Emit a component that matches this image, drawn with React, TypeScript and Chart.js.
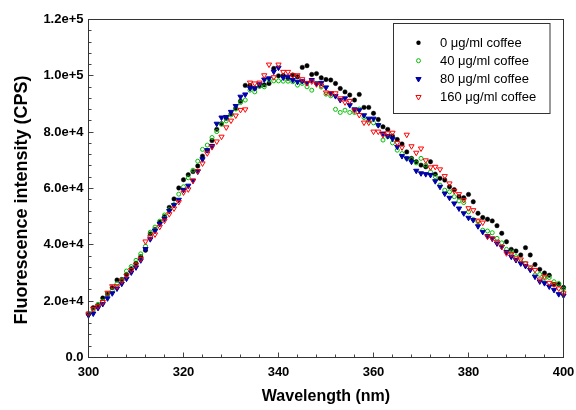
import React, { useEffect, useRef } from 'react';
import { Chart, registerables } from 'chart.js';

Chart.register(...registerables);

// Wavelength (nm)
const wavelengths = [
  300, 301, 302, 303, 304, 305, 306, 307, 308, 309,
  310, 311, 312, 313, 314, 315, 316, 317, 318, 319,
  320, 321, 322, 323, 324, 325, 326, 327, 328, 329,
  330, 331, 332, 333, 334, 335, 336, 337, 338, 339,
  340, 341, 342, 343, 344, 345, 346, 347, 348, 349,
  350, 351, 352, 353, 354, 355, 356, 357, 358, 359,
  360, 361, 362, 363, 364, 365, 366, 367, 368, 369,
  370, 371, 372, 373, 374, 375, 376, 377, 378, 379,
  380, 381, 382, 383, 384, 385, 386, 387, 388, 389,
  390, 391, 392, 393, 394, 395, 396, 397, 398, 399,
  400,
];

// Fluorescence intensity, in thousands of CPS
const coffee0 = [
  15.5, 17.7, 18.5, 21.1, 22.5, 24.8, 27.5, 27.7, 29.5, 31.5,
  33.5, 35.8, 38.1, 43.9, 45.5, 48.0, 50.0, 53.3, 56.3, 60.2,
  63.1, 64.9, 66.0, 68.0, 71.5, 73.5, 77.0, 81.0, 83.0, 84.9,
  86.5, 88.5, 91.0, 96.6, 96.6, 95.5, 96.4, 96.8, 97.3, 102.6,
  100.0, 100.1, 99.1, 100.3, 99.7, 103.0, 103.6, 100.5, 100.8, 99.3,
  98.7, 98.5, 97.3, 95.5, 94.3, 93.2, 91.4, 93.4, 88.8, 88.8,
  86.7, 84.5, 81.9, 81.0, 78.6, 77.4, 75.8, 73.0, 70.7, 69.5,
  68.3, 67.7, 69.5, 65.1, 63.6, 63.0, 60.6, 59.6, 57.1, 56.7,
  57.9, 55.3, 51.2, 49.7, 49.1, 48.5, 46.8, 44.1, 41.1, 38.4,
  37.8, 36.4, 39.0, 36.4, 33.0, 31.3, 30.0, 29.2, 25.9, 26.0,
  24.9,
];

const coffee40 = [
  15.5, 17.0, 18.9, 20.0, 22.7, 23.8, 26.2, 27.5, 30.7, 32.3,
  34.5, 36.8, 39.5, 44.5, 46.3, 48.4, 50.6, 52.5, 54.3, 58.0,
  60.6, 63.8, 66.5, 69.7, 73.9, 75.4, 78.1, 80.2, 82.8, 84.0,
  86.1, 88.2, 90.5, 91.4, 94.9, 94.3, 96.3, 96.1, 98.5, 98.2,
  98.2, 98.1, 98.1, 97.9, 96.7, 97.3, 96.1, 94.9, 97.3, 96.0,
  93.5, 92.9, 88.1, 87.0, 87.8, 87.0, 87.0, 88.2, 85.2, 84.2,
  83.3, 82.5, 77.2, 78.4, 76.2, 73.6, 72.4, 70.7, 70.3, 69.1,
  70.7, 68.3, 65.9, 64.2, 61.2, 59.4, 58.8, 57.1, 55.6, 55.0,
  51.7, 49.0, 48.2, 45.2, 44.9, 44.3, 42.3, 40.7, 38.4, 37.5,
  35.8, 34.0, 33.4, 31.6, 29.3, 29.5, 28.1, 28.4, 26.9, 26.3,
  24.3,
];

const coffee80 = [
  15.0, 15.6, 17.6, 19.0, 21.0, 22.8, 24.5, 26.2, 28.0, 30.2,
  32.0, 34.5, 38.5, 42.0, 45.0, 47.4, 49.3, 52.0, 54.1, 56.0,
  59.5, 61.0, 62.8, 66.0, 70.4, 73.6, 75.1, 83.0, 85.2, 85.4,
  87.2, 89.3, 92.6, 93.4, 95.6, 95.6, 97.0, 98.7, 99.1, 101.5,
  102.9, 99.4, 99.7, 98.5, 97.9, 98.1, 97.5, 98.5, 97.3, 97.5,
  95.9, 93.8, 92.8, 91.4, 92.0, 89.6, 88.1, 87.8, 86.0, 84.8,
  84.8, 82.5, 79.5, 78.6, 77.7, 74.8, 71.5, 70.7, 69.5, 66.3,
  65.4, 65.1, 64.8, 62.6, 60.6, 58.2, 56.7, 54.7, 52.9, 51.2,
  49.6, 48.8, 46.6, 44.6, 43.1, 42.2, 40.5, 39.3, 37.5, 35.8,
  34.6, 33.4, 32.5, 31.1, 28.7, 27.0, 26.4, 25.2, 24.0, 22.5,
  22.0,
];

const coffee160 = [
  15.6, 17.3, 18.3, 19.7, 23.0, 25.3, 25.3, 27.1, 29.1, 31.1,
  32.9, 35.0, 41.2, 42.7, 43.7, 46.4, 48.6, 50.9, 52.9, 55.2,
  58.6, 59.7, 62.8, 66.2, 68.9, 72.5, 74.7, 76.7, 78.4, 81.7,
  84.1, 85.9, 87.9, 88.1, 97.6, 97.3, 97.6, 100.2, 104.0, 99.5,
  104.0, 101.4, 101.4, 100.2, 100.2, 98.8, 97.4, 98.0, 97.0, 96.6,
  94.1, 93.8, 93.8, 92.0, 90.6, 91.1, 87.7, 86.1, 83.4, 83.4,
  80.2, 80.2, 79.0, 79.6, 79.8, 76.2, 74.6, 79.1, 75.0, 72.7,
  74.2, 70.0, 67.5, 67.7, 66.8, 64.4, 61.8, 59.1, 58.0, 55.9,
  53.0, 52.3, 48.6, 47.9, 42.9, 42.3, 41.1, 39.3, 37.0, 36.7,
  35.2, 34.8, 33.4, 32.0, 31.1, 27.7, 28.7, 26.5, 26.0, 24.5,
  22.8,
];

const seriesLabels = ['0 \u03BCg/ml coffee', '40 \u03BCg/ml coffee', '80 \u03BCg/ml coffee', '160 \u03BCg/ml coffee'];
const xTitle = 'Wavelength (nm)';
const yTitle = 'Fluorescence intensity (CPS)';

const BLACK = '#000000';
const GREEN = '#00c000';
const BLUE = '#0000a8';
const RED = '#ff0000';
const FONT = '"Liberation Sans", Arial, sans-serif';

function fmtY(value: number): string {
  if (value === 0) return '0.0';
  const e = Math.floor(Math.log10(value) + 1e-9);
  const m = value / Math.pow(10, e);
  return m.toFixed(1) + 'e+' + e;
}

function drawMarker(ctx: CanvasRenderingContext2D, kind: string, x: number, y: number) {
  ctx.save();
  ctx.lineWidth = 1;
  if (kind === 'dot') {
    ctx.fillStyle = BLACK;
    ctx.beginPath();
    ctx.arc(x, y, 2.2, 0, Math.PI * 2);
    ctx.fill();
  } else if (kind === 'ring') {
    ctx.strokeStyle = GREEN;
    ctx.beginPath();
    ctx.arc(x, y, 2, 0, Math.PI * 2);
    ctx.stroke();
  } else {
    const r = 3;
    const s = r * Math.sin(Math.PI / 3);
    ctx.beginPath();
    ctx.moveTo(x, y + r);
    ctx.lineTo(x - s, y - r / 2);
    ctx.lineTo(x + s, y - r / 2);
    ctx.closePath();
    if (kind === 'tri') {
      ctx.fillStyle = BLUE;
      ctx.strokeStyle = BLUE;
      ctx.fill();
      ctx.stroke();
    } else {
      ctx.strokeStyle = RED;
      ctx.stroke();
    }
  }
  ctx.restore();
}

const decorPlugin = {
  id: 'decor',
  afterDatasetsDraw(chart: any) {
    const ctx: CanvasRenderingContext2D = chart.ctx;
    const xs = chart.scales.x;
    const ys = chart.scales.y;
    const left = Math.round(xs.getPixelForValue(300) - 0.5) + 0.5;
    const right = Math.round(xs.getPixelForValue(400) - 0.5) + 0.5;
    const bottom = Math.round(ys.getPixelForValue(0) - 0.5) + 0.5;
    const top = Math.round(ys.getPixelForValue(120000) - 0.5) + 0.5;
    ctx.save();
    // ticks (inward)
    ctx.strokeStyle = '#444';
    ctx.lineWidth = 1;
    ctx.beginPath();
    for (let w = 300; w <= 400; w += 4) {
      const px = Math.round(xs.getPixelForValue(w) - 0.5) + 0.5;
      const len = w % 20 === 0 ? 5 : 3;
      ctx.moveTo(px, bottom);
      ctx.lineTo(px, bottom - len);
    }
    for (let v = 0; v <= 120000; v += 4000) {
      const py = Math.round(ys.getPixelForValue(v) - 0.5) + 0.5;
      const len = v % 20000 === 0 ? 5 : 3;
      ctx.moveTo(left, py);
      ctx.lineTo(left + len, py);
    }
    ctx.stroke();
    // frame
    ctx.strokeStyle = '#333';
    ctx.strokeRect(left, top, right - left, bottom - top);

    // legend
    ctx.strokeStyle = '#333';
    ctx.fillStyle = '#ffffff';
    ctx.fillRect(393.5, 23.5, 156.5, 90);
    ctx.strokeRect(393.5, 23.5, 156.5, 90);
    const kinds = ['dot', 'ring', 'tri', 'otri'];
    const rows = [42.7, 60.7, 79, 97];
    ctx.font = '13px ' + FONT;
    ctx.fillStyle = '#000';
    ctx.textAlign = 'left';
    ctx.textBaseline = 'middle';
    for (let i = 0; i < seriesLabels.length; i++) {
      drawMarker(ctx, kinds[i], 418.5, rows[i]);
      ctx.fillStyle = '#000';
      ctx.fillText(seriesLabels[i], 440, rows[i] + 0.5);
    }

    // axis titles
    ctx.font = 'bold 16px ' + FONT;
    ctx.textAlign = 'center';
    ctx.textBaseline = 'middle';
    ctx.fillText(xTitle, (left + right) / 2, 397);
    ctx.save();
    ctx.translate(22, 200);
    ctx.rotate(-Math.PI / 2);
    ctx.font = 'bold 18px ' + FONT;
    ctx.fillText(yTitle, 0, 0);
    ctx.restore();
    ctx.restore();
  },
};

export default function App() {
  const ref = useRef<HTMLCanvasElement>(null);
  useEffect(() => {
    document.body.style.margin = '0';
    const canvas = ref.current;
    if (!canvas) return;
    const pts = (arr: number[]) => arr.map((v, i) => ({ x: wavelengths[i], y: v * 1000 }));
    const chart = new Chart(canvas, {
      type: 'scatter',
      data: {
        datasets: [
          {
            label: seriesLabels[0],
            data: pts(coffee0),
            pointStyle: 'circle',
            pointRadius: 2.2,
            pointBackgroundColor: BLACK,
            pointBorderColor: BLACK,
            pointBorderWidth: 0.5,
            showLine: false,
            order: 4,
            clip: false,
          } as any,
          {
            label: seriesLabels[1],
            data: pts(coffee40),
            pointStyle: 'circle',
            pointRadius: 2,
            pointBackgroundColor: 'rgba(0,0,0,0)',
            pointBorderColor: GREEN,
            pointBorderWidth: 1,
            showLine: false,
            order: 3,
            clip: false,
          },
          {
            label: seriesLabels[2],
            data: pts(coffee80),
            pointStyle: 'triangle',
            pointRotation: 180,
            pointRadius: 3,
            pointBackgroundColor: BLUE,
            pointBorderColor: BLUE,
            pointBorderWidth: 1,
            showLine: false,
            order: 2,
            clip: false,
          },
          {
            label: seriesLabels[3],
            data: pts(coffee160),
            pointStyle: 'triangle',
            pointRotation: 180,
            pointRadius: 3,
            pointBackgroundColor: 'rgba(0,0,0,0)',
            pointBorderColor: RED,
            pointBorderWidth: 1,
            showLine: false,
            order: 1,
            clip: false,
          },
        ],
      },
      options: {
        animation: false,
        responsive: false,
        devicePixelRatio: 1,
        events: [],
        layout: { padding: { top: 19.5, right: 12.5, left: 0, bottom: 0 } },
        plugins: { legend: { display: false }, tooltip: { enabled: false } },
        scales: {
          x: {
            type: 'linear',
            min: 300,
            max: 400,
            grid: { display: false, drawTicks: false },
            border: { display: false },
            ticks: {
              stepSize: 20,
              color: '#000',
              padding: 7,
              font: { family: FONT, size: 13, weight: 'bold' },
              maxRotation: 0,
            },
            afterFit: (s: any) => { s.height = 52.5; s.paddingLeft = 0; s.paddingRight = 0; },
          },
          y: {
            type: 'linear',
            min: 0,
            max: 120000,
            grid: { display: false, drawTicks: false },
            border: { display: false },
            ticks: {
              stepSize: 20000,
              color: '#000',
              padding: 5,
              font: { family: FONT, size: 13, weight: 'bold' },
              callback: (v: any) => fmtY(Number(v)),
            },
            afterFit: (s: any) => { s.width = 88.5; s.paddingTop = 0; s.paddingBottom = 0; },
          },
        },
      },
      plugins: [decorPlugin],
    });
    return () => chart.destroy();
  }, []);
  return (
    <div style={{ width: 576, height: 410, position: 'relative', background: '#fff' }}>
      <canvas ref={ref} width={576} height={410} style={{ display: 'block' }} />
    </div>
  );
}
